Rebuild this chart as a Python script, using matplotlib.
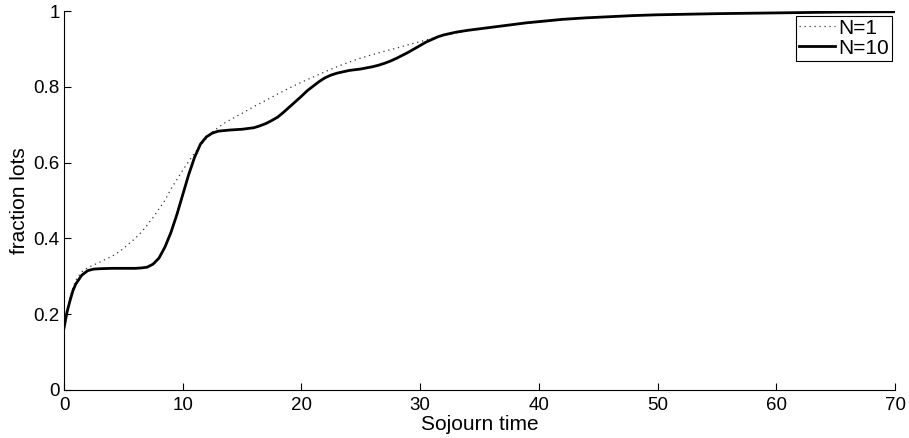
import matplotlib
matplotlib.use("Agg")
import matplotlib.pyplot as plt

plt.rcParams['font.family'] = ['Liberation Sans', 'DejaVu Sans']

x_n10 = [0, 0.25, 0.5, 0.75, 1, 1.5, 2, 2.5, 3, 4, 5, 6, 6.5, 7, 7.5, 8, 8.5, 9, 9.5, 10,
         10.5, 11, 11.5, 12, 12.5, 13, 14, 15, 16, 16.5, 17, 17.5, 18, 18.5, 19, 19.5, 20,
         20.5, 21, 21.5, 22, 22.5, 23, 24, 25, 26, 26.5, 27, 27.5, 28, 28.5, 29, 29.5, 30,
         30.5, 31, 31.5, 32, 33, 34, 35, 36, 37, 38, 39, 40, 42, 44, 46, 48, 50, 55, 60, 65, 70]
y_n10 = [0.163, 0.205, 0.235, 0.262, 0.28, 0.303, 0.315, 0.319, 0.320, 0.321, 0.321, 0.321,
         0.322, 0.324, 0.332, 0.348, 0.377, 0.415, 0.462, 0.515, 0.568, 0.614, 0.649, 0.668,
         0.678, 0.683, 0.686, 0.688, 0.692, 0.697, 0.703, 0.711, 0.72, 0.733, 0.747, 0.761,
         0.775, 0.79, 0.802, 0.814, 0.824, 0.831, 0.836, 0.843, 0.847, 0.853, 0.857, 0.862,
         0.868, 0.875, 0.883, 0.891, 0.9, 0.909, 0.918, 0.925, 0.932, 0.937, 0.944, 0.949,
         0.953, 0.957, 0.961, 0.965, 0.969, 0.972, 0.978, 0.982, 0.985, 0.988, 0.99, 0.993,
         0.995, 0.997, 0.998]

x_n1 = [0, 0.25, 0.5, 0.75, 1, 1.5, 2, 2.5, 3, 3.5, 4, 4.5, 5, 5.5, 6, 6.5, 7, 7.5, 8, 8.5,
        9, 9.5, 10, 10.5, 11, 11.5, 12, 12.5, 13, 13.5, 14, 15, 16, 17, 18, 19, 20, 21, 22,
        23, 24, 25, 26, 27, 28, 29, 30, 31, 32, 33, 34, 35, 36, 38, 40, 42, 44, 46, 48, 50,
        55, 60, 65, 70]
y_n1 = [0.163, 0.21, 0.245, 0.27, 0.29, 0.312, 0.323, 0.33, 0.337, 0.345, 0.352, 0.362,
        0.373, 0.387, 0.40, 0.416, 0.435, 0.455, 0.478, 0.50, 0.53, 0.555, 0.58, 0.603,
        0.625, 0.645, 0.664, 0.68, 0.693, 0.704, 0.713, 0.73, 0.748, 0.764, 0.781, 0.797,
        0.812, 0.826, 0.84, 0.853, 0.865, 0.876, 0.885, 0.894, 0.902, 0.911, 0.919, 0.928,
        0.936, 0.942, 0.948, 0.952, 0.957, 0.965, 0.97, 0.977, 0.982, 0.985, 0.988, 0.99,
        0.993, 0.995, 0.997, 0.998]

labels = ["N=1", "N=10"]
x_ticks = [0, 10, 20, 30, 40, 50, 60, 70]
y_ticks = [0, 0.2, 0.4, 0.6, 0.8, 1]
y_ticklabels = ["0", "0.2", "0.4", "0.6", "0.8", "1"]

FS_TICK = 13.5
FS_LAB = 15

fig = plt.figure(figsize=(9.09, 4.38), dpi=100)
ax = fig.add_axes([64/909, 1 - 390/438, 831/909, 379/438])

ax.plot(x_n1, y_n1, linestyle=(0, (1, 3)), color='#333333', linewidth=0.9, label=labels[0])
ax.plot(x_n10, y_n10, linestyle='-', color='black', linewidth=2.0, label=labels[1])

ax.set_xlim(0, 70)
ax.set_ylim(0, 1)
ax.set_xticks(x_ticks)
ax.set_xticklabels([str(t) for t in x_ticks])
ax.set_yticks(y_ticks)
ax.set_yticklabels(y_ticklabels)
ax.tick_params(direction='in', length=5, width=0.8, labelsize=FS_TICK)
ax.tick_params(axis='x', pad=5)
ax.tick_params(axis='y', pad=3)
for s in ['top', 'right']:
    ax.spines[s].set_visible(False)
for s in ['left', 'bottom']:
    ax.spines[s].set_linewidth(0.8)

ax.set_xlabel("Sojourn time", fontsize=FS_LAB, labelpad=0.5)
ax.set_ylabel("fraction lots", fontsize=FS_LAB, labelpad=3)

leg = ax.legend(loc='upper right', bbox_to_anchor=(0.996, 0.988), borderaxespad=0,
                fancybox=False, edgecolor='black', framealpha=1, fontsize=FS_LAB,
                handlelength=1.7, handletextpad=0.15, labelspacing=0.05, borderpad=0.15)
leg.get_frame().set_linewidth(0.8)

fig.savefig("out.png", dpi=100)
